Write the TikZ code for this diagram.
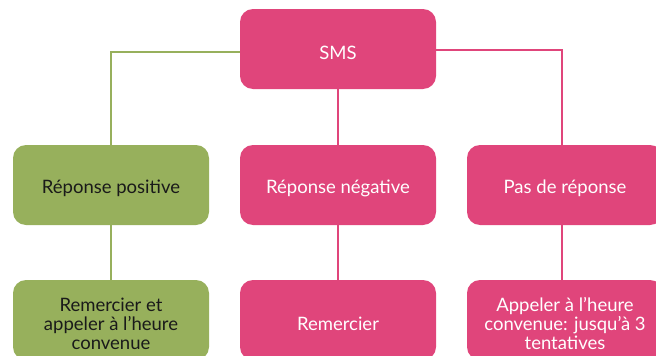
\documentclass[tikz,border=0pt]{standalone}
\usepackage{fontspec}
\setmainfont{Lato}
\definecolor{pinkc}{HTML}{E0457B}
\definecolor{greenc}{HTML}{97B05C}
\definecolor{darkt}{HTML}{1A1A1A}
\begin{document}
\begin{tikzpicture}[x=1pt,y=1pt,
  box/.style={rounded corners=13pt,minimum width=196pt,minimum height=80pt,inner sep=0pt},
  txt/.style={align=center,inner sep=0pt,yshift=-3.5pt,font=\fontsize{18.5}{19}\selectfont},
  pbox/.style={box,fill=pinkc,label={[txt,text=white]center:#1}},
  gbox/.style={box,fill=greenc,label={[txt,text=darkt]center:#1}},
  pline/.style={draw=pinkc,line width=2.3pt},
  gline/.style={draw=greenc,line width=2.3pt}]
\useasboundingbox (0,0) rectangle (656,-356);
\clip (0,0) rectangle (656,-356);
\node[pbox={SMS}] (sms) at (338,-49) {};
\node[gbox={Réponse positive}] (pos) at (111,-185) {};
\node[pbox={Réponse négative}] (neg) at (338,-185) {};
\node[pbox={Pas de réponse}] (non) at (565,-185) {};
\node[gbox={Remercier et\\appeler à l’heure\\convenue}] (pos2) at (111,-320) {};
\node[pbox={Remercier}] (neg2) at (338,-320) {};
\node[pbox={Appeler à l’heure\\convenue: jusqu’à 3\\tentatives}] (non2) at (565,-320) {};
\draw[gline] ([yshift=-3pt]sms.west) -| (pos.north);
\draw[pline] (sms.south) -- (neg.north);
\draw[pline] ([yshift=-1pt]sms.east) -| ([xshift=-3pt]non.north);
\draw[gline] (pos.south) -- (pos2.north);
\draw[pline] (neg.south) -- (neg2.north);
\draw[pline] ([xshift=-3pt]non.south) -- ([xshift=-3pt]non2.north);
\end{tikzpicture}
\end{document}
